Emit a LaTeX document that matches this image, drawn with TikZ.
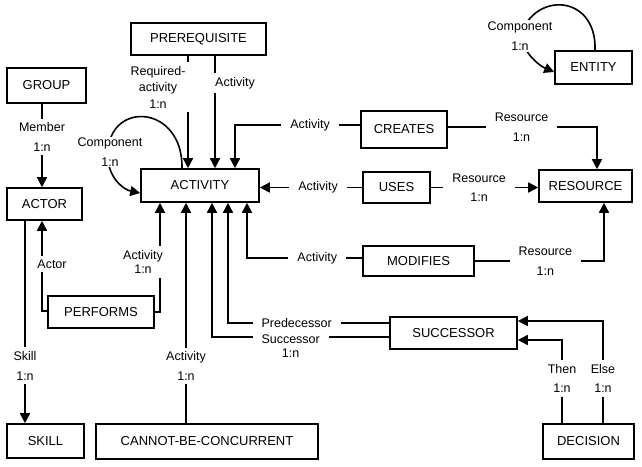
\documentclass[tikz,border=0pt]{standalone}
\usepackage{fontspec}
\setmainfont{Liberation Sans}
\usetikzlibrary{arrows.meta}
\tikzstyle{entbox} = [draw=black, line width=1.6pt, rectangle, inner sep=0pt,
    font=\fontsize{13}{15}\selectfont]
\tikzstyle{rel} = [line width=1.6pt, -{Triangle[length=10pt,width=10pt]}]
\tikzstyle{link} = [line width=1.6pt]
\tikzstyle{lbl} = [fill=white, align=center, inner xsep=9pt, inner ysep=4pt,
    font=\fontsize{12.5}{19.5}\selectfont]

\begin{document}
\begin{tikzpicture}[x=1pt, y=-1pt]
\useasboundingbox (0,0) rectangle (642,466);
% entities
\node[entbox, minimum width=135, minimum height=32] (prereq) at (198.5,39) {PREREQUISITE};
\node[entbox, minimum width=79, minimum height=35] (group) at (46.5,85.5) {GROUP};
\node[entbox, minimum width=75, minimum height=32] (actor) at (44.5,204) {ACTOR};
\node[entbox, minimum width=118, minimum height=33] (activity) at (200,185.5) {ACTIVITY};
\node[entbox, minimum width=77, minimum height=33] (entity) at (593.5,67.5) {ENTITY};
\node[entbox, minimum width=86, minimum height=37] (creates) at (404,129.5) {CREATES};
\node[entbox, minimum width=67, minimum height=31] (uses) at (396.5,187.5) {USES};
\node[entbox, minimum width=93, minimum height=32] (resource) at (585.5,186) {RESOURCE};
\node[entbox, minimum width=111, minimum height=30] (modifies) at (418.5,261) {MODIFIES};
\node[entbox, minimum width=127, minimum height=32] (successor) at (453.5,333) {SUCCESSOR};
\node[entbox, minimum width=106, minimum height=32] (performs) at (101,312) {PERFORMS};
\node[entbox, minimum width=77, minimum height=34] (skill) at (45.5,441) {SKILL};
\node[entbox, minimum width=222, minimum height=35] (cbc) at (207,441.5) {CANNOT-BE-CONCURRENT};
\node[entbox, minimum width=91, minimum height=35] (decision) at (588.5,441.5) {DECISION};

% relationships into ACTIVITY
\draw[rel] (prereq.south -| 188,0) -- node[lbl, pos=0.28, xshift=-30]
    {Required-\\[-3pt]activity\\[-3pt]1:n} (activity.north -| 188,0);
\draw[rel] (prereq.south -| 215,0) -- node[lbl, pos=0.24, xshift=20]{Activity}
    (activity.north -| 215,0);
\draw[rel] (activity.north -| 182,0) .. controls (183,105) and (110,100) .. (108,152)
    node[lbl, inner sep=1pt, xshift=2]{Component\\1:n}
    .. controls (106,178) and (125,190) .. (activity.west |- 0,193);
\draw[rel] (creates.west |- 0,125) -| node[lbl, pos=0.2]{Activity} (activity.north -| 235,0);
\draw[rel] (uses.west) -- node[lbl, pos=0.43]{Activity} (activity.east |- uses.west);
\draw[rel] (modifies.west |- 0,258) -| node[lbl, pos=0.195]{Activity} (activity.south -| 247,0);
\draw[rel] (successor.west |- 0,323) -| node[lbl, pos=0.287]{Predecessor} (activity.south -| 228,0);
\draw[rel] (successor.west |- 0,337) -| node[lbl, pos=0.278, yshift=-9]
    {Successor\\[-6pt]1:n} (activity.south -| 212,0);
\draw[rel] (cbc.north -| 186,0) -- node[lbl, pos=0.26]{Activity\\1:n} (activity.south -| 186,0);
\draw[rel] (performs.east |- 0,312) -| node[lbl, pos=0.73, xshift=-17]
    {Activity\\[-5pt]1:n} (activity.south -| 160,0);

% actor side
\draw[rel] (group.south -| 42,0) -- node[lbl, pos=0.4]{Member\\1:n} (actor.north -| 42,0);
\draw[rel] (performs.west |- 0,311) -| node[lbl, pos=0.76, xshift=10]{Actor} (actor.south -| 42,0);
\draw[rel] (actor.south -| 25,0) -- node[lbl, pos=0.716]{Skill\\1:n} (skill.north -| 25,0);

% resources
\draw[rel] (creates.east |- 0,127) -| node[lbl, pos=0.247]{Resource\\1:n} (resource.north -| 597,0);
\draw[rel] (uses.east) -- node[lbl, pos=0.45]{Resource\\1:n} (resource.west |- uses.east);
\draw[rel] (modifies.east |- 0,261) -| node[lbl, pos=0.273]{Resource\\1:n} (resource.south -| 604,0);
\draw[rel] (entity.north -| 595,0) .. controls (597,-5) and (535,-10) .. (520,36)
    node[lbl, inner sep=2pt]{Component\\1:n}
    .. controls (525,55) and (540,66) .. (entity.west |- 0,72);

% decision
\draw[rel] (decision.north -| 562,0) |- node[lbl, pos=0.27]{Then\\1:n} (successor.east |- 0,340);
\draw[rel] (decision.north -| 603,0) |- node[lbl, pos=0.22]{Else\\1:n} (successor.east |- 0,321);
\end{tikzpicture}
\end{document}
